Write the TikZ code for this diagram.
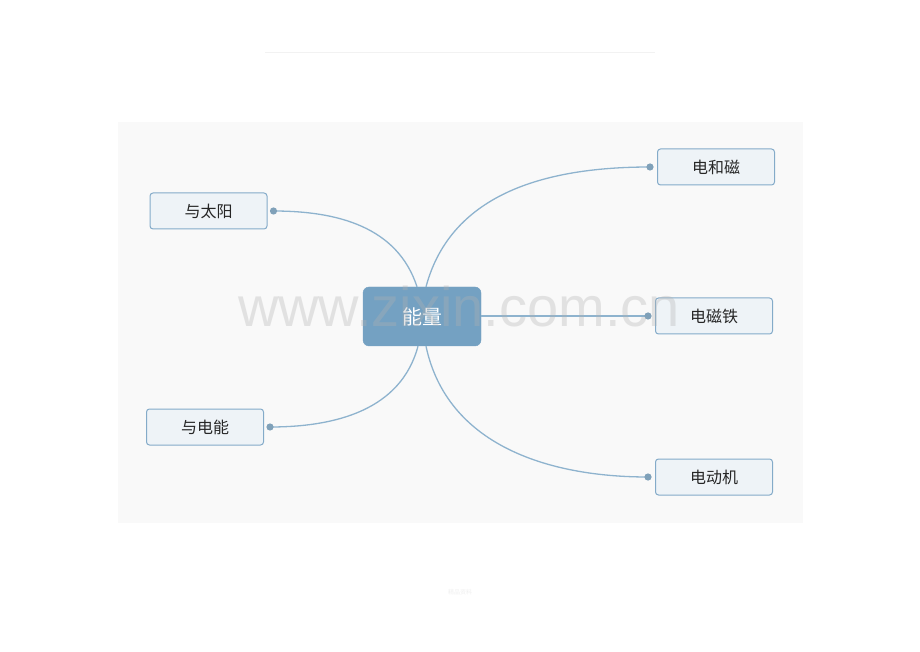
\documentclass[tikz,border=0pt]{standalone}
\usepackage{fontspec}
\setmainfont{Noto Sans CJK SC}
\newfontfamily\wmfont{Liberation Sans}
\usepackage{tikz}
\usepackage{xcolor}
\definecolor{rootblue}{HTML}{74A1C2}
\definecolor{leafline}{HTML}{84ABC9}
\definecolor{leaffill}{HTML}{EEF3F7}
\definecolor{branchblue}{HTML}{8EB3CE}
\definecolor{panelgrey}{HTML}{F9F9F9}
\tikzstyle{rootbox} = [draw=rootblue, fill=rootblue, rectangle, rounded corners=6pt, minimum width=118pt, minimum height=59pt, text=white, font=\fontsize{20}{20}\selectfont]
\tikzstyle{leafbox} = [draw=leafline, fill=leaffill, line width=1pt, rectangle, rounded corners=3pt, minimum width=117pt, minimum height=36pt, text=black!85, font=\fontsize{16}{16}\selectfont]
\tikzstyle{branch} = [draw=branchblue, line width=1.3pt]
\tikzstyle{enddot} = [fill=branchblue!90!black, draw=none]
\tikzstyle{wmark} = [text=black!30, opacity=0.33, font=\wmfont\fontsize{56}{56}\selectfont]

\begin{document}
\begin{tikzpicture}[x=1pt,y=1pt]
\useasboundingbox (0,0) rectangle (920,651);
\fill[white] (0,0) rectangle (920,651);
\draw[black!5, line width=1pt] (265,598) -- (655,598);
\fill[panelgrey] (118,128) rectangle (803,529);

\node [rootbox] (energy) at (422,334.5) {能量};
\node [leafbox] (sun) at (208.5,440) {与太阳};
\node [leafbox] (elec) at (205,224) {与电能};
\node [leafbox] (elmag) at (716,484) {电和磁};
\node [leafbox] (magnet) at (714,335) {电磁铁};
\node [leafbox] (motor) at (714,174) {电动机};

\coordinate (sunend) at ([xshift=6pt]sun.east);
\coordinate (elecend) at ([xshift=6pt]elec.east);
\coordinate (elmagend) at ([xshift=-7pt]elmag.west);
\coordinate (magnetend) at ([xshift=-7pt]magnet.west);
\coordinate (motorend) at ([xshift=-7pt]motor.west);

\draw [branch] ([xshift=-5pt]energy.north) to[out=108, in=0] (sunend);
\draw [branch] ([xshift=4pt]energy.north) to[out=75, in=180] (elmagend);
\draw [branch] (energy.east |- magnetend) -- (magnetend);
\draw [branch] ([xshift=-4pt]energy.south) to[out=-105, in=0] (elecend);
\draw [branch] ([xshift=4pt]energy.south) to[out=-78, in=180] (motorend);

\foreach \e in {sunend,elecend,elmagend,magnetend,motorend}
  \fill [enddot] (\e) circle (3.6pt);

\node [wmark, anchor=base] (wm) at (459,324) {www.zixin.com.cn};
\node [text=black!6, font=\fontsize{6}{6}\selectfont] (foot) at (460,59) {精品资料};
\end{tikzpicture}
\end{document}
